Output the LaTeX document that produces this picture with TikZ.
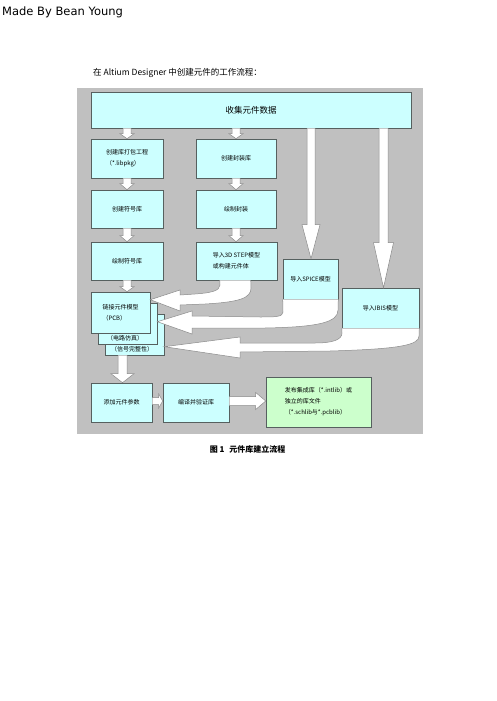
\documentclass[tikz,border=0pt]{standalone}
\usepackage{fontspec}
\setmainfont{Noto Sans CJK SC}
\newfontfamily\latinsans{DejaVu Sans}
\usetikzlibrary{calc}
\definecolor{bggray}{HTML}{C0C0C0}
\definecolor{boxcyan}{HTML}{CCFFFF}
\definecolor{boxgreen}{HTML}{CCFFCC}
\definecolor{edgecol}{HTML}{56605F}
\definecolor{arrowedge}{HTML}{8A8A8A}
% vertical block arrow: from, to, x, shaft half width, head half width, head length
\newcommand\vArrow[6]{%
  \filldraw[blockarrow] let \p1=(#1.south), \p2=(#2.north) in
  (#3pt-#4pt,\y1) -- (#3pt-#4pt,\y2+#6pt) -- (#3pt-#5pt,\y2+#6pt) -- (#3pt,\y2)
  -- (#3pt+#5pt,\y2+#6pt) -- (#3pt+#4pt,\y2+#6pt) -- (#3pt+#4pt,\y1);}
% horizontal block arrow: from, to, y, shaft half width, head half width, head length
\newcommand\hArrow[6]{%
  \filldraw[blockarrow] let \p1=(#1.east), \p2=(#2.west) in
  (\x1,-#3pt+#4pt) -- (\x2-#6pt,-#3pt+#4pt) -- (\x2-#6pt,-#3pt+#5pt) -- (\x2,-#3pt)
  -- (\x2-#6pt,-#3pt-#5pt) -- (\x2-#6pt,-#3pt-#4pt) -- (\x1,-#3pt-#4pt);}
\begin{document}
\begin{tikzpicture}[x=1pt,y=-1pt,
  box/.style={draw=edgecol, line width=0.6pt, fill=boxcyan, inner sep=0pt,
    font=\fontsize{6}{11}\selectfont, align=left},
  greenbox/.style={box, fill=boxgreen},
  blockarrow/.style={fill=white, draw=arrowedge, line width=0.5pt, line join=miter},
  txt/.style={inner sep=0pt},
  small/.style={txt, font=\fontsize{6}{8}\selectfont}]
\useasboundingbox (0,0) rectangle (496,701);
\fill[white] (0,0) rectangle (496,701);

\node[txt, anchor=west, font=\latinsans\fontsize{11.5}{13}\selectfont] (made) at (2,12) {Made By Bean Young};
\node[txt, anchor=west, font=\fontsize{8.5}{10}\selectfont] (title) at (93,73) {在 Altium Designer 中创建元件的工作流程：};
\node[txt, font=\fontsize{8}{10}\selectfont\bfseries] (caption) at (247.5,449) {图 1\hspace{0.6em}元件库建立流程};

% panel
\fill[bggray] (77,88) rectangle (423,434);

% boxes
\node[box, align=center, font=\fontsize{8.5}{10}\selectfont, minimum width=320, minimum height=36] (collect) at (251,110) {收集元件数据};
\node[box, minimum width=72, minimum height=39] (pkg) at (127,158.5) {创建库打包工程\\（*.libpkg）};
\node[box, minimum width=80, minimum height=39] (fplib) at (236,158.5) {创建封装库};
\node[box, minimum width=72, minimum height=38] (symlib) at (127,209) {创建符号库};
\node[box, minimum width=80, minimum height=38] (drawfp) at (236,209) {绘制封装};
\node[box, minimum width=72, minimum height=38] (drawsym) at (127,261) {绘制符号库};
\node[box, minimum width=81, minimum height=38] (step) at (236.5,261) {导入3D STEP模型\\或构建元件体};

\node[box, minimum width=59, minimum height=41] (pcb3) at (134.5,334.5) {};
\node[small] (pcb3t) at (132,349) {（信号完整性）};
\node[box, minimum width=59, minimum height=41] (pcb2) at (127.5,323.5) {};
\node[small] (pcb2t) at (125,338.5) {（电路仿真）};
\node[box, minimum width=59, minimum height=41] (pcb1) at (120.5,312.5) {链接元件模型\\（PCB）};

\node[box, minimum width=61, minimum height=39] (param) at (121.5,402.5) {添加元件参数};
\node[box, minimum width=66, minimum height=39] (compile) at (196,402.5) {编译并验证库};
\node[greenbox, minimum width=105, minimum height=50] (publish) at (318.5,402) {发布集成库（*.intlib）或\\独立的库文件\\（*.schlib与*.pcblib）};

\node[box, minimum width=55, minimum height=40] (spice) at (310.5,279) {导入SPICE模型};
\node[box, minimum width=77, minimum height=40] (ibis) at (380.5,308) {导入IBIS模型};

% curved block arrows
\filldraw[blockarrow] ($(step.south west)+(24,0)$) -- (220,285)
  .. controls (220,291) and (210,293) .. (195,294) -- (180,295) -- (180,290)
  -- ($(pcb1.north east)+(0,8)$) -- (180,311) -- (180,305) -- (205,304)
  .. controls (240,302) and (251,298) .. (251,288) -- ($(step.south west)+(55,0)$);
\filldraw[blockarrow] (spice.south west) -- (283,312)
  .. controls (283,317) and (275,317) .. (260,317) -- (192,316) -- (192,311)
  -- ($(pcb2.north east)+(0,19)$) -- (192,334) -- (192,328) -- (265,328)
  .. controls (320,327) and (338,322) .. (338,310) -- (spice.south east);
\filldraw[blockarrow] (ibis.south west) -- (342,333)
  .. controls (342,340) and (332,343) .. (315,343) -- (240,343) -- (240,337)
  -- ($(pcb3.north east)+(0,33)$) -- (240,358) -- (240,352) -- (330,351)
  .. controls (400,349) and (419,345) .. (419,336) -- (ibis.south east);

% straight block arrows
\vArrow{collect}{pkg}{127}{4}{7}{5}
\vArrow{collect}{fplib}{236}{4}{7}{5}
\vArrow{pkg}{symlib}{127}{4}{7}{6}
\vArrow{fplib}{drawfp}{236}{4}{7}{6}
\vArrow{symlib}{drawsym}{127}{4}{7}{6}
\vArrow{drawfp}{step}{236}{4}{7}{6}
\vArrow{drawsym}{pcb1}{127}{4}{7}{5}
\vArrow{collect}{spice}{311}{4}{9}{34}
\vArrow{collect}{ibis}{383.5}{4.5}{10}{45}
\vArrow{pcb3}{param}{122.5}{4.5}{11.5}{9}
\hArrow{param}{compile}{401}{3.5}{7}{4}
\hArrow{compile}{publish}{401}{4.5}{8.5}{10}
\end{tikzpicture}
\end{document}
